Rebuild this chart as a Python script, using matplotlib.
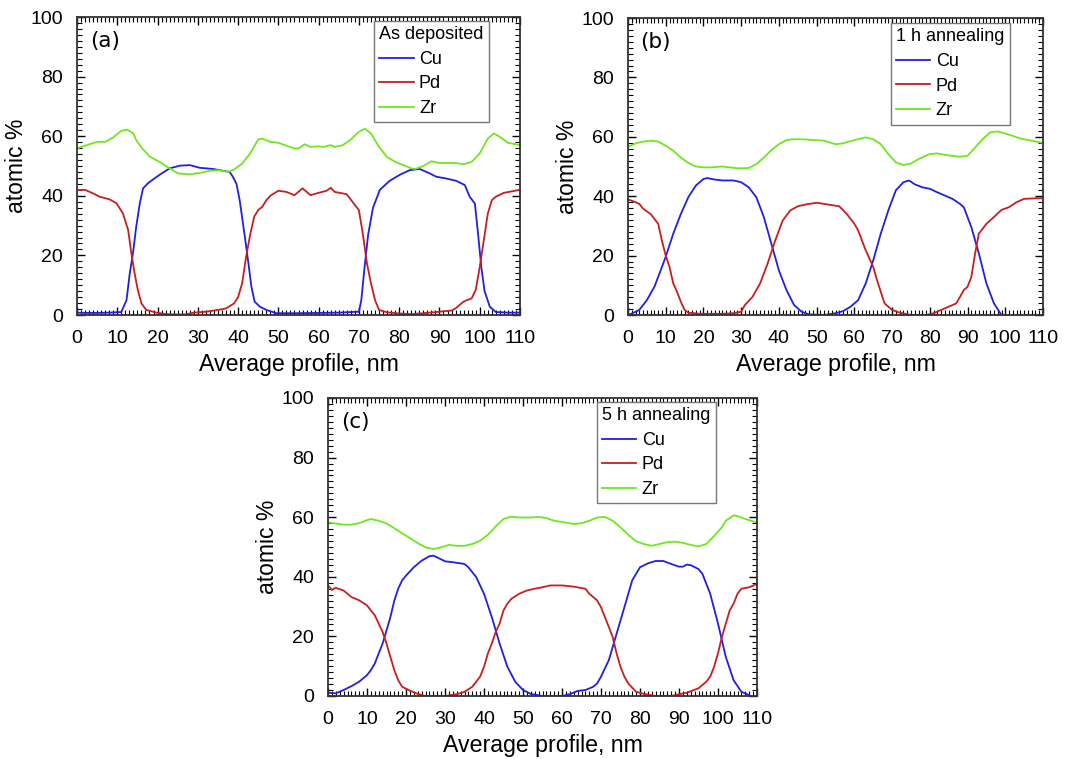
import matplotlib
matplotlib.use("Agg")
import matplotlib.pyplot as plt
from matplotlib.ticker import MultipleLocator

plt.rcParams['font.family'] = ['Liberation Sans', 'DejaVu Sans']

# ---------------- Panel (a): As deposited ----------------
a_cu_x = [0, 2, 5, 8, 11, 12.3, 13.1, 13.9, 14.7, 15.6, 16.4, 17.6, 19.3, 21, 23, 25.5, 28, 30.5, 33.8, 37.9,
          38.7, 39.6, 40.4, 41.6, 42.5, 43.3, 44.1, 45.4, 47, 49.5, 55, 60, 65, 70, 70.6, 71.4, 72.3, 73.5,
          75.2, 77.6, 80.1, 82.6, 85.1, 87.6, 89.2, 91.7, 94.2, 96.3, 97.5, 98.8, 99.6, 100.4, 101.2, 102.5,
          104, 107, 110]
a_cu_y = [0.8, 0.7, 0.7, 0.8, 1.0, 5, 14, 20.7, 29.6, 37.5, 42.5, 44.2, 45.9, 47.5, 49.2, 50.1, 50.3, 49.4, 49, 48,
          46.4, 44, 38.5, 27, 18, 9.5, 4.5, 2.8, 1.7, 0.6, 0.6, 0.7, 0.8, 1.1, 5, 16, 27, 36,
          42, 45, 47, 48.6, 49, 47.5, 46.4, 45.8, 45, 43.6, 39.7, 37.4, 27, 16, 8, 2.8,
          1.0, 0.8, 0.8]
a_pd_x = [0, 2, 4, 5.6, 8.1, 9.8, 11.4, 12.7, 13.5, 14.3, 15.1, 16, 17.2, 19.7, 22.2, 24, 27, 29, 32, 35, 37, 39, 40, 41,
          42, 43, 44, 45, 46, 47, 48, 50, 52, 54, 56, 58, 60, 62, 63, 64, 66, 67, 69, 70, 71, 72, 73, 74,
          75, 77, 80, 83, 86, 90, 93, 94, 96, 98, 99, 100, 101, 102, 103, 104, 106, 108, 110]
a_pd_y = [41.9, 42, 40.8, 39.7, 38.8, 37.5, 34.1, 28.5, 20.7, 14, 8.4, 3.9, 1.7, 0.8, 0.3, 0.2, 0.2, 0.8,
          1.1, 1.7, 2.2, 3.9, 6, 10.6, 19.6, 27, 33, 35.2, 36.3, 38.5, 40, 41.7, 41.3, 40.2, 42.5, 40.2,
          41, 41.7, 42.7, 41.3, 40.8, 40.5, 36.9, 35.2, 27, 17.3, 10.6, 5, 1.7, 0.9, 0.5, 0.3, 0.6, 1.1,
          1.5, 2.2, 4.5, 5.6, 8.4, 16, 25, 34, 38.5, 39.7, 41, 41.5, 42]
a_zr_x = [0, 2, 5, 7, 9, 11, 12.5, 14, 14.7, 16, 18.1, 20.5, 23, 25.1, 28, 31, 33, 35, 36, 37.5, 39, 41, 43,
          45, 46, 48, 50, 52, 54, 55, 56.5, 58, 60, 61, 63, 64, 66, 68, 70, 71.5, 73, 75, 77, 79, 81, 83,
          84, 86, 88, 90, 92, 94, 96, 98, 100, 102, 103.5, 105, 107, 110]
a_zr_y = [55.9, 56.8, 58.1, 58.1, 59.6, 61.8, 62.2, 60.9, 58.7, 56.2, 53.1, 51.4, 49.2, 47.5, 47.2,
          47.8, 48.4, 48.6, 48.4, 48, 48.8, 50.8, 54.2, 58.9, 59.2, 58.1, 57.8, 56.8, 55.9, 55.9, 57.3,
          56.4, 56.6, 56.4, 57, 56.4, 57, 58.9, 61.5, 62.5, 60.9, 56.4, 53, 51.4, 50.3, 49.2, 49, 50,
          51.6, 51, 51, 51, 50.6, 51.4, 54.2, 59.2, 60.9, 59.8, 57.8, 57]

# ---------------- Panel (b): 1 h annealing ----------------
b_cu_x = [0, 1, 3, 5, 7, 9, 10, 12, 14, 16, 18, 20, 21, 23, 25, 28, 30, 32, 34, 36, 38, 40, 42, 44, 46,
          48, 52, 55, 57, 59, 61, 63, 65, 67, 69, 71, 73, 74.5, 76, 78, 80, 82, 84, 86, 88, 89, 91, 93,
          95, 97, 99]
b_cu_y = [0, 0.5, 1.7, 5, 9.5, 16.2, 19.6, 27.4, 34, 39.7, 43.6, 45.8, 46.1, 45.6, 45.3, 45.3, 44.7,
          43, 39.7, 33, 24, 15, 8.4, 3.4, 1.1, 0.2, 0, 0.6, 1.3, 2.8, 5, 10.6, 18.4, 27.4, 35.2, 42,
          44.7, 45.3, 44, 43, 42.5, 41.3, 40.2, 39.1, 37.4, 36.3, 29.6, 20.7, 10.6, 3.9, 0]
b_pd_x = [0, 2, 3, 4, 6, 8, 9, 10, 11, 12, 13, 14, 15, 16, 19, 25, 28, 30, 31, 33, 35, 37, 39, 41, 43,
          45, 47, 50, 53, 56, 58, 60, 61, 63, 65, 66, 68, 70, 72, 75, 79, 81, 83, 85, 87, 88, 89, 90,
          91, 92, 93, 95, 97, 99, 101, 103, 105, 108, 110]
b_pd_y = [38.9, 38, 37.4, 35.8, 34, 30.7, 25, 20, 16.2, 10.6, 7.8, 4.5, 1.7, 0.8, 0.4, 0.4, 0.6, 1.1,
          3.4, 6.1, 10.6, 17.3, 25, 31.8, 35.2, 36.6, 37.2, 37.8, 37.2, 36.6, 34, 30.7, 28.5, 21.8,
          16.2, 11.7, 3.9, 1.7, 0.8, 0, 0, 0.6, 1.7, 2.8, 3.9, 6.1, 8.4, 9.5, 12.8, 20.7, 27.4, 30.7,
          33, 35.4, 36.3, 38, 39.1, 39.3, 39.3]
b_zr_x = [0, 2, 4, 6, 8, 10, 12, 14, 16, 18, 20, 22, 25, 27, 29, 32, 34, 36, 38, 40, 42, 44, 47, 49,
          52, 55, 57, 60, 63, 65, 67, 69, 71, 73, 75, 77, 80, 82, 84, 86, 88, 90, 92, 94, 96, 98, 100,
          102, 104, 107, 110]
b_zr_y = [56.6, 57.8, 58.4, 58.7, 58.4, 57, 55.3, 53, 51.2, 50, 49.7, 49.7, 50, 49.7, 49.4, 49.5,
          50.8, 53, 55.5, 57.5, 58.9, 59.2, 59.1, 58.9, 58.7, 57.5, 57.8, 58.9, 59.8, 59.2, 57.5, 54.2,
          51.4, 50.5, 51, 52.5, 54.2, 54.4, 53.9, 53.6, 53.3, 53.6, 56.4, 59.2, 61.5, 61.8, 61.1, 60.3,
          59.4, 58.7, 57.9]

# ---------------- Panel (c): 5 h annealing ----------------
c_cu_x = [0, 2, 4, 6, 8, 10, 11, 12, 13, 14, 15, 16, 17, 18, 19, 20, 22, 24, 26, 27, 28, 30, 32, 34,
          35, 36, 38, 40, 42, 44, 46, 48, 50, 52, 55, 60, 62, 64, 66, 68, 69, 70, 72, 74, 76, 78, 80,
          82, 84, 86, 88, 90, 91, 92, 93, 95, 96, 98, 100, 102, 104, 106, 108]
c_cu_y = [1.1, 0.9, 2, 3.3, 4.8, 7, 8.7, 10.9, 14.3, 17.6, 22, 26.5, 32, 36, 38.8, 40.4, 43.2, 45.4,
          46.9, 47.1, 46.5, 45.2, 44.9, 44.5, 44.3, 43.2, 39.9, 34.3, 26.5, 17.6, 9.8, 4.8, 2, 0.7, 0,
          0, 0.6, 1.7, 2, 3.1, 4.2, 6.5, 12, 20.9, 29.8, 38.8, 43.2, 44.5, 45.3, 45.3, 44.3, 43.4, 43.4,
          44.1, 43.9, 42.6, 41, 34.3, 24.3, 13.1, 5.3, 1.4, 0.3]
c_pd_x = [0, 1, 2, 4, 6, 8, 10, 12, 13, 14, 15, 16, 17, 18, 19, 21, 23, 25, 30, 33, 35, 37, 39, 40, 41,
          42, 43, 44, 45, 46, 47, 49, 51, 53, 55, 57, 60, 63, 66, 67, 69, 70, 71, 72, 73, 74, 75, 76, 77,
          79, 81, 84, 88, 90, 92, 95, 97, 98, 99, 100, 101, 102, 103, 104, 105, 106, 108, 110]
c_pd_y = [37.1, 35.6, 36.3, 35.4, 33.2, 32.1, 30.4, 27.1, 24.3, 21.5, 17.6, 13.1, 8.7, 5.3, 3.1, 1.8,
          0.7, 0, 0, 0.6, 1.4, 3.1, 6.5, 9.8, 14.3, 17.6, 21.5, 24.3, 28.7, 31, 32.6, 34.3, 35.4, 36,
          36.5, 37.1, 37.1, 36.7, 36, 34.3, 32.1, 29.8, 26.5, 23.2, 19.8, 14.3, 9.8, 6.5, 4.2, 1.4, 0.7,
          0, 0, 0.6, 1.1, 2.6, 4.8, 6.5, 9.8, 14.3, 19.8, 24.3, 28.7, 31, 34.3, 36, 36.5, 37.6]
c_zr_x = [0, 2, 4, 6, 8, 10, 11, 13, 15, 17, 19, 21, 23, 25, 27, 29, 31, 33, 35, 37, 39, 41, 43, 45,
          47, 49, 52, 54, 56, 58, 61, 63, 65, 67, 69, 71, 73, 75, 77, 79, 81, 83, 85, 87, 89, 91, 93,
          95, 97, 99, 101, 102, 104, 105, 107, 110]
c_zr_y = [58.2, 57.9, 57.5, 57.5, 58, 59, 59.4, 58.8, 57.9, 56.3, 54.6, 53, 51.3, 49.9, 49.3, 49.9,
          50.7, 50.4, 50.4, 51, 52.1, 54.1, 56.9, 59.4, 60.2, 59.9, 59.9, 60.1, 59.7, 58.8, 58.2, 57.7,
          58, 58.8, 59.9, 60.1, 58.8, 56.6, 54.1, 51.9, 51, 50.4, 51, 51.6, 51.8, 51.4, 50.7, 50.2, 51,
          53.7, 56.6, 58.8, 60.6, 60.4, 59.4, 58.2]

panel_labels = ['(a)', '(b)', '(c)']
legend_titles = ['As deposited', '1 h annealing', '5 h annealing']
series_names = ['Cu', 'Pd', 'Zr']
x_ticks = list(range(0, 111, 10))
y_ticks = list(range(0, 101, 20))

colors = {'Cu': '#1f1fe6', 'Pd': '#c81e1e', 'Zr': '#6ee81c'}

panels = [
    (a_cu_x, a_cu_y, a_pd_x, a_pd_y, a_zr_x, a_zr_y),
    (b_cu_x, b_cu_y, b_pd_x, b_pd_y, b_zr_x, b_zr_y),
    (c_cu_x, c_cu_y, c_pd_x, c_pd_y, c_zr_x, c_zr_y),
]

W, H = 1072, 759
fig = plt.figure(figsize=(W / 100, H / 100), dpi=100)

# axes rectangles in pixels: left, top, right, bottom
rects_px = [(77, 17, 520, 315), (628, 18, 1043, 315), (328, 398, 757, 696)]
legend_anchor = [(0.930, 0.987), (0.920, 0.983), (0.904, 0.987)]

for i, (l, t, r, b) in enumerate(rects_px):
    ax = fig.add_axes([l / W, 1 - b / H, (r - l) / W, (b - t) / H])
    cx, cy, px_, py_, zx, zy = panels[i]
    ax.plot(cx, cy, color=colors['Cu'], lw=1.3, label='Cu')
    ax.plot(px_, py_, color=colors['Pd'], lw=1.3, label='Pd')
    ax.plot(zx, zy, color=colors['Zr'], lw=1.3, label='Zr')
    ax.set_xlim(0, 110)
    ax.set_ylim(0, 100)
    ax.set_xticks(x_ticks)
    ax.set_yticks(y_ticks)
    ax.xaxis.set_minor_locator(MultipleLocator(1))
    ax.yaxis.set_minor_locator(MultipleLocator(2))
    ax.tick_params(which='both', direction='in', top=True, right=True, labelsize=14)
    ax.tick_params(which='major', length=6, width=1)
    ax.tick_params(axis='x', which='major', pad=11)
    ax.tick_params(axis='y', which='major', pad=10)
    ax.tick_params(which='minor', length=3.5, width=0.8)
    for sp in ax.spines.values():
        sp.set_linewidth(1.3)
        sp.set_color('#333333')
    ax.set_xlabel('Average profile, nm', fontsize=16.7, labelpad=4)
    ax.set_ylabel('atomic %', fontsize=16.5, labelpad=2)
    ax.text(0.03, 0.92, panel_labels[i], transform=ax.transAxes, fontsize=15.5,
            ha='left', va='center', family=['DejaVu Sans'])
    leg = ax.legend(title=legend_titles[i], loc='upper right', bbox_to_anchor=legend_anchor[i],
                    fontsize=13, title_fontsize=13, frameon=True, fancybox=False,
                    edgecolor='#777777', framealpha=1, handlelength=1.9, handletextpad=0.3,
                    labelspacing=0.42, borderpad=0.3, borderaxespad=0, alignment='left')
    leg.get_frame().set_linewidth(1.0)

fig.savefig('out.png', dpi=100)
